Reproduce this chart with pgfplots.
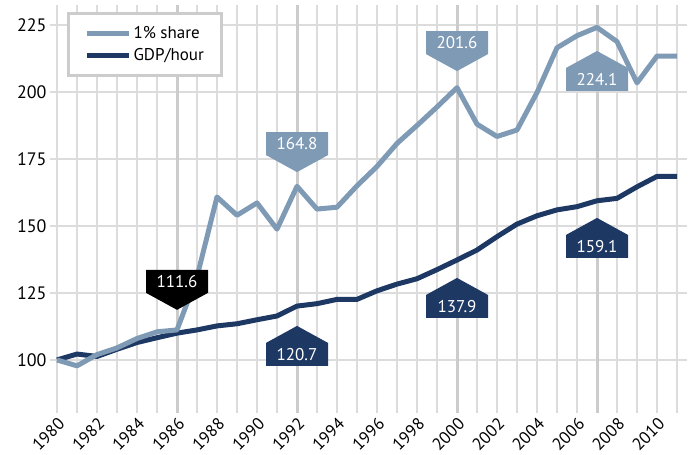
\documentclass[border=0pt]{standalone}
\usepackage{pgfplots}
\pgfplotsset{compat=1.18}
\usepackage{fontspec}
\setmainfont{PT Sans}
\definecolor{lightc}{RGB}{127,154,181}
\definecolor{darkc}{RGB}{30,56,100}
\definecolor{gridc}{RGB}{220,220,220}
\definecolor{gridd}{RGB}{204,204,204}
\newcommand\fnt{\fontsize{17bp}{20bp}\selectfont}
\newcommand\tfnt{\fontsize{18bp}{21bp}\selectfont}
\newcommand\calloutDown[4]{%
 \fill[#3] (axis cs:#1,#2) -- ++(-31bp,17bp) -- ++(0bp,23bp) -- ++(62bp,0bp) -- ++(0bp,-23bp) -- cycle;
 \node[text=white,font=\fnt,inner sep=0pt,yshift=28.5bp] at (axis cs:#1,#2) {#4};}
\newcommand\calloutUp[4]{%
 \fill[#3] (axis cs:#1,#2) -- ++(-31bp,-17bp) -- ++(0bp,-23bp) -- ++(62bp,0bp) -- ++(0bp,23bp) -- cycle;
 \node[text=white,font=\fnt,inner sep=0pt,yshift=-28.5bp] at (axis cs:#1,#2) {#4};}
\begin{document}
\begin{tikzpicture}
\begin{axis}[
 name=main,
 scale only axis, width=637bp, height=408bp,
 xmin=1979.65, xmax=2011.5, ymin=80.2, ymax=232.46,
 axis line style={draw=none},
 xtick={1980,1982,...,2010}, minor xtick={1981,1983,...,2011},
 ytick={100,125,...,225},
 major tick length=0pt, minor tick length=0pt,
 xmajorgrids, xminorgrids, ymajorgrids,
 grid style={gridc, line width=1.5bp},
 minor grid style={gridc, line width=1.5bp},
 extra x ticks={1986,1992,2000,2007}, extra x tick labels={},
 extra x tick style={grid style={gridd,line width=3bp}},
 /pgf/number format/assume math mode=true,
 y tick label style={font=\tfnt},
 x tick label style={font=\fnt, rotate=45, anchor=north east, inner sep=2.5bp, /pgf/number format/1000 sep={}},
 legend style={at={(rel axis cs:0.0267,0.982)}, anchor=north west, draw=gridd, line width=3bp, fill=white, font=\fnt, inner xsep=16bp, inner ysep=11bp, row sep=4bp},
 legend cell align=left,
 reverse legend,
 legend image code/.code={\path (0bp,0bp) -- (42bp,0bp); \draw[#1, line cap=round] (12bp,0bp) -- (39bp,0bp);},
 every axis plot/.append style={line width=5bp, line join=round},
]
\addplot[darkc] coordinates {
(1980,100) (1981,102.2) (1982,101.3) (1983,104) (1984,106.5) (1985,108.3) (1986,110)
(1987,111.2) (1988,112.7) (1989,113.5) (1990,115) (1991,116.4) (1992,120.1) (1993,121)
(1994,122.6) (1995,122.6) (1996,125.8) (1997,128.3) (1998,130.3) (1999,133.7) (2000,137.3)
(2001,141) (2002,146) (2003,150.7) (2004,153.8) (2005,156) (2006,157.2) (2007,159.4)
(2008,160.3) (2009,164.6) (2010,168.5) (2011,168.5)};
\addlegendentry{GDP/hour}
\addplot[lightc] coordinates {
(1980,100) (1981,97.8) (1982,102) (1983,104.5) (1984,108) (1985,110.5) (1986,111.2)
(1987,131) (1988,160.8) (1989,154) (1990,158.6) (1991,148.8) (1992,164.8) (1993,156.3)
(1994,157) (1995,165) (1996,172.2) (1997,180.8) (1998,187.5) (1999,194.4) (2000,201.6)
(2001,188) (2002,183.4) (2003,185.8) (2004,199.8) (2005,216.5) (2006,221) (2007,224.1)
(2008,218.8) (2009,203.4) (2010,213.4) (2011,213.4)};
\addlegendentry{1\% share}
\calloutDown{1992}{170.1}{lightc}{164.8}
\calloutDown{2000}{207.8}{lightc}{201.6}
\calloutUp{2007}{215.3}{lightc}{224.1}
\calloutDown{1986}{118.7}{black}{111.6}
\calloutUp{1992}{112.7}{darkc}{120.7}
\calloutUp{2000}{130.6}{darkc}{137.9}
\calloutUp{2007}{153.0}{darkc}{159.1}
\end{axis}
\pgfresetboundingbox
\path[use as bounding box] (main.south west) ++(-50bp,-42bp) rectangle ([xshift=11bp,yshift=5bp]main.north east);
\end{tikzpicture}
\end{document}
